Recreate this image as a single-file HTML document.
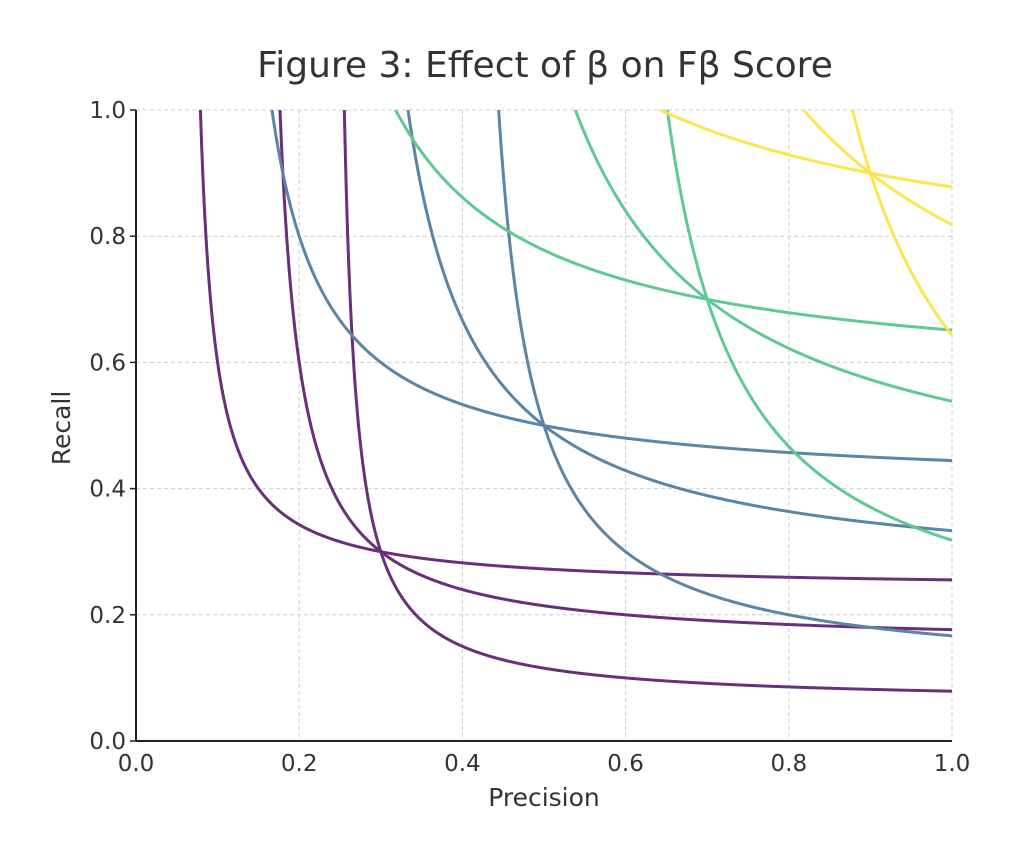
<!DOCTYPE html>
<html><head><meta charset="utf-8">
<style>
body{margin:0;background:#fff;}
svg text{font-family:"DejaVu Sans","Liberation Sans",sans-serif;fill:#333333;}
</style></head>
<body>
<svg id="chart" width="1024" height="861" viewBox="0 0 1024 861" xmlns="http://www.w3.org/2000/svg">
<defs><clipPath id="plotclip"><rect x="136" y="110" width="816" height="631"/></clipPath></defs>
<text x="545" y="77" font-size="36" text-anchor="middle">Figure 3: Effect of β on Fβ Score</text>
<g id="grid"></g>
<g id="curves" clip-path="url(#plotclip)"></g>
<g id="axes"></g>
<text x="544" y="806" font-size="25" text-anchor="middle">Precision</text>
<text transform="translate(70,428) rotate(-90)" font-size="25" text-anchor="middle">Recall</text>
</svg>
<script>
const fScores = [0.3, 0.5, 0.7, 0.9];
const betas = [0.5, 1, 2];
const colors = ["#6a2f7a", "#5a85a6", "#5ec994", "#fbe64f"];
const xTicks = [0, 0.2, 0.4, 0.6, 0.8, 1.0];
const yTicks = [0, 0.2, 0.4, 0.6, 0.8, 1.0];
const xTickLabels = ["0.0","0.2","0.4","0.6","0.8","1.0"];
const yTickLabels = ["0.0","0.2","0.4","0.6","0.8","1.0"];

const NS = "http://www.w3.org/2000/svg";
const X0=136, X1=952, Y0=741, Y1=110;
const sx = v => X0 + v*(X1-X0);
const sy = v => Y0 - v*(Y0-Y1);
function mk(tag, attrs, parent){const e=document.createElementNS(NS,tag);for(const k in attrs)e.setAttribute(k,attrs[k]);parent.appendChild(e);return e;}

const grid=document.getElementById('grid'), axes=document.getElementById('axes'), curves=document.getElementById('curves');
xTicks.forEach((t,i)=>{
  const g=mk('line',{x1:sx(t),x2:sx(t),y1:Y1,y2:Y0,stroke:'#cccccc','stroke-dasharray':'4,3','stroke-width':1},grid);
  
  
  const l=mk('text',{x:sx(t),y:Y0+30,'font-size':23,'text-anchor':'middle'},axes);
  l.textContent=xTickLabels[i];
  
  
});
yTicks.forEach((t,i)=>{
  const g=mk('line',{x1:X0,x2:X1,y1:sy(t),y2:sy(t),stroke:'#cccccc','stroke-dasharray':'4,3','stroke-width':1},grid);
  
  
  const tk=mk('line',{x1:X0-6,x2:X0,y1:sy(t),y2:sy(t),stroke:'#222','stroke-width':1.5},axes);
  
  
  const l=mk('text',{x:X0-10,y:sy(t)+8,'font-size':23,'text-anchor':'end'},axes);
  l.textContent=yTickLabels[i];
  
  
});
const ya=mk('line',{x1:X0,x2:X0,y1:Y1,y2:Y0,stroke:'#222','stroke-width':2},axes);


const xa=mk('line',{x1:X0,x2:X1,y1:Y0,y2:Y0,stroke:'#222','stroke-width':2},axes);



fScores.forEach((f,fi)=>{
  betas.forEach(b=>{
    const b2=b*b;
    const pts=[];
    for(let i=0;i<=2000;i++){
      const p=i/2000;
      const den=(1+b2)*p-f;
      if(den<=0) continue;
      const r=f*b2*p/den;
      if(r>1.2) continue;
      pts.push(sx(p).toFixed(2)+','+sy(r).toFixed(2));
    }
    const pl=mk('polyline',{points:pts.join(' '),fill:'none',stroke:colors[fi],'stroke-width':3},curves);
    
    
  });
});
</script>
</body></html>
